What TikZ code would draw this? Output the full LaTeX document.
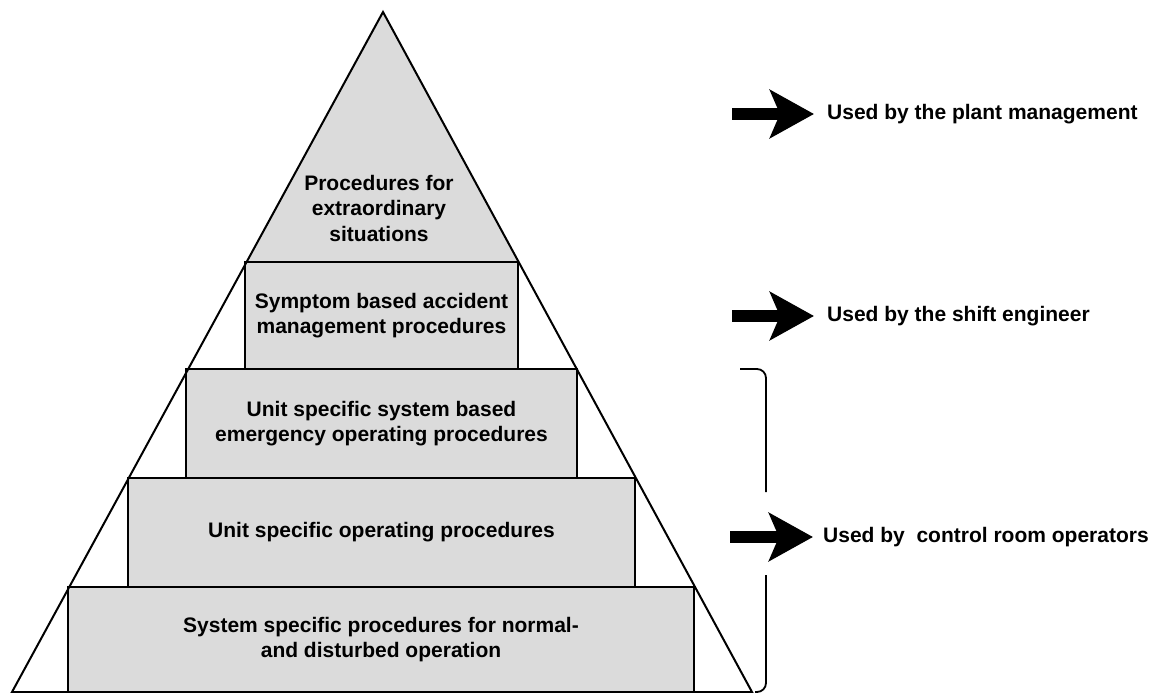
\documentclass[tikz,border=0pt]{standalone}
\usepackage{fontspec}
\setmainfont{Liberation Sans}
\usetikzlibrary{arrows.meta}
\definecolor{stipple}{gray}{0.86}
\begin{document}
\begin{tikzpicture}[x=1pt,y=-1pt,
  lvl/.style={draw, line width=2.6pt, fill=stipple, inner sep=0pt, align=center,
    font=\bfseries\fontsize{21}{25.5}\selectfont},
  outline/.style={line width=2pt, line join=miter},
  usage/.style={anchor=west, inner sep=0pt, font=\bfseries\fontsize{21}{25}\selectfont},
  blockarrow/.style={line width=12pt, -{Stealth[length=44pt,width=48pt,inset=10pt]}},
  brace/.style={line width=1.8pt, rounded corners=9pt},
]
\useasboundingbox (0,0) rectangle (1163,693);

% pyramid outline corners
\coordinate (apex) at (383,12);
\coordinate (bl) at (12,692);
\coordinate (br) at (752,692);

% stippled tip of the pyramid
\fill[stipple] (apex) -- (246,262) -- (518,262) -- cycle;
\node[align=center, inner sep=0pt, font=\bfseries\fontsize{21}{25.5}\selectfont]
  (tip) at (379,208) {Procedures for\\extraordinary\\situations};

% the four levels
\node[lvl, minimum width=273pt, minimum height=107pt] (l1) at (381.5,315.5)
  {Symptom based accident\\management procedures};
\node[lvl, minimum width=391pt, minimum height=109pt] (l2) at (381.5,423.5)
  {Unit specific system based\\emergency operating procedures};
\node[lvl, minimum width=507pt, minimum height=109pt] (l3) at (381.5,532.5)
  {Unit specific operating procedures};
\node[lvl, minimum width=626pt, minimum height=105pt] (l4) at (381,639.5)
  {System specific procedures for normal-\\and disturbed operation};

\draw[outline] (apex) -- (bl) -- (br) -- cycle;

% who uses which level
\node[usage] (u1) at (827,114) {Used by the plant management};
\node[usage] (u2) at (827,316) {Used by the shift engineer};
\node[usage] (u3) at (823,537) {Used by\ \ control room operators};

\coordinate (a1) at (732,114);
\coordinate (a2) at (732,316);
\coordinate (a3) at (730,537);
\draw[blockarrow] (a1) -- ([xshift=-13pt]u1.west);
\draw[blockarrow] (a2) -- ([xshift=-13pt]u2.west);
\draw[blockarrow] (a3) -- ([xshift=-10pt]u3.west);

% bracket grouping the lower three levels
\coordinate (bt) at (740,369);
\coordinate (bb) at (755,692);
\draw[brace] (bt) -- (766,369) -- (766,492);
\draw[brace] (766,575) -- (766,692) -- (bb);
\end{tikzpicture}
\end{document}
